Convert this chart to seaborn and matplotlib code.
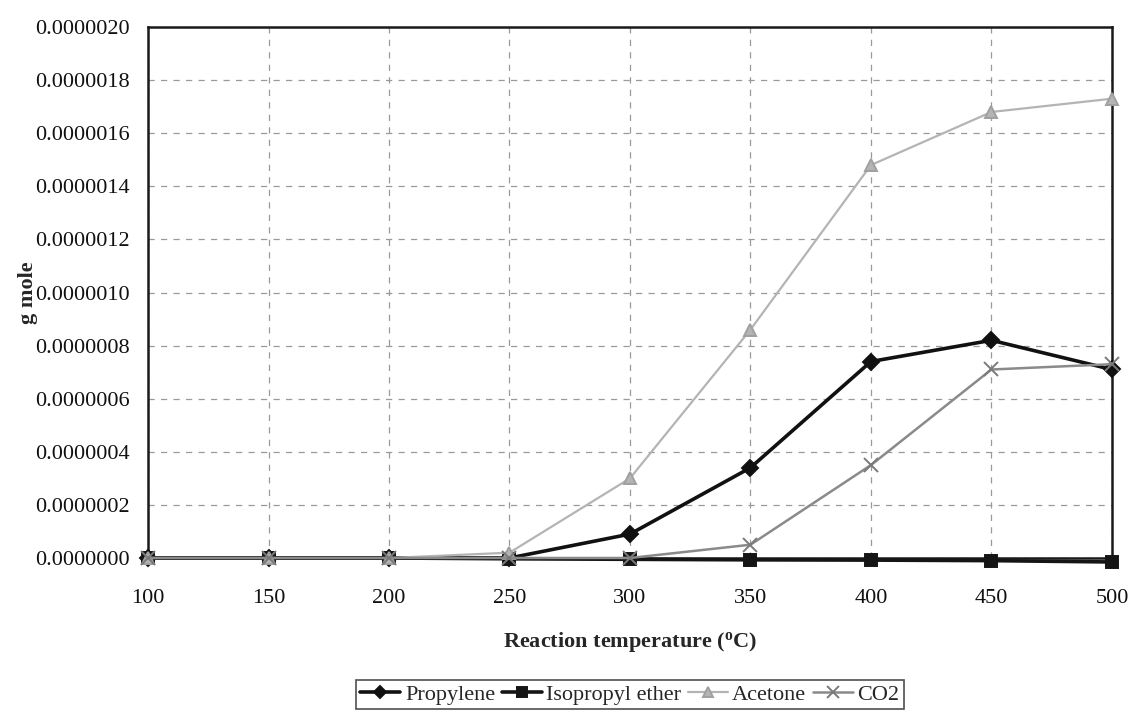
import matplotlib
matplotlib.use("Agg")
import matplotlib.pyplot as plt
import seaborn as sns
import pandas as pd
from matplotlib.ticker import FormatStrFormatter

# Reaction temperature (°C)
temperature = [100, 150, 200, 250, 300, 350, 400, 450, 500]

# Product amounts (g mole)
propylene = [0.0, 0.0, 0.0, 0.0, 0.09e-6, 0.34e-6, 0.74e-6, 0.82e-6, 0.71e-6]
isopropyl_ether = [0.0, 0.0, 0.0, -0.003e-6, -0.005e-6, -0.007e-6, -0.008e-6, -0.01e-6, -0.015e-6]
acetone = [0.0, 0.0, 0.0, 0.02e-6, 0.30e-6, 0.86e-6, 1.48e-6, 1.68e-6, 1.73e-6]
co2 = [0.0, 0.0, 0.0, 0.0, 0.0, 0.05e-6, 0.35e-6, 0.71e-6, 0.73e-6]

series_names = ["Propylene", "Isopropyl ether", "Acetone", "CO2"]
series_values = [propylene, isopropyl_ether, acetone, co2]

y_ticks = [0.0, 0.2e-6, 0.4e-6, 0.6e-6, 0.8e-6, 1.0e-6, 1.2e-6, 1.4e-6, 1.6e-6, 1.8e-6, 2.0e-6]
x_ticks = temperature

rows = []
for name, vals in zip(series_names, series_values):
    for t, v in zip(temperature, vals):
        rows.append({"temperature": t, "amount": v, "product": name})
df = pd.DataFrame(rows)

sns.set_style("white")
plt.rcParams["font.family"] = ["Liberation Serif", "DejaVu Serif"]

fig = plt.figure(figsize=(11.3, 7.15), dpi=100)
ax = fig.add_axes([0.131, 0.2196, 0.853, 0.7426])

styles = {
    "Propylene": dict(color="#111111", marker="D", lw=2.6, ms=8, mec="#111111"),
    "Isopropyl ether": dict(color="#151515", marker="s", lw=2.6, ms=9, mec="#151515"),
    "Acetone": dict(color="#b4b4b4", marker="^", lw=1.6, ms=9, mec="#a0a0a0"),
    "CO2": dict(color="#8a8a8a", marker="x", lw=1.8, ms=10, mec="#7a7a7a"),
}

for name in series_names:
    st = styles[name]
    sns.lineplot(
        data=df[df["product"] == name], x="temperature", y="amount", ax=ax,
        color=st["color"], marker=st["marker"], linewidth=st["lw"],
        markersize=st["ms"], markeredgecolor=st["mec"], markeredgewidth=1.4,
        label=name, clip_on=False, zorder=3,
    )

ax.set_xlim(100, 500)
ax.set_ylim(0, 2.0e-6)
ax.set_xticks(x_ticks)
ax.set_yticks(y_ticks)
ax.yaxis.set_major_formatter(FormatStrFormatter("%.7f"))
ax.tick_params(axis="both", labelsize=16, length=5, direction="out", color="#222222",
               labelcolor="#111111")
ax.tick_params(axis="x", pad=17)
ax.tick_params(axis="y", pad=8)

ax.grid(True, linestyle=(0, (5, 5)), color="#9a9a9a", linewidth=0.9)
for sp in ax.spines.values():
    sp.set_visible(True)
    sp.set_color("#1a1a1a")
    sp.set_linewidth(1.8)

ax.set_xlabel("Reaction temperature ($\\mathregular{^o}$C)", fontsize=16, fontweight="bold", labelpad=16)
ax.set_ylabel("g mole", fontsize=16, fontweight="bold", labelpad=-2)

ax.legend(
    loc="upper center", bbox_to_anchor=(0.5, -0.2295), ncol=4, frameon=True,
    fancybox=False, edgecolor="#222222", fontsize=16, handlelength=1.8,
    handletextpad=0.2, columnspacing=0.3, borderpad=0.2, markerscale=0.8,
    borderaxespad=0,
)
ax.get_legend().get_frame().set_linewidth(1.2)

fig.savefig("out.png", dpi=100, facecolor="white")
